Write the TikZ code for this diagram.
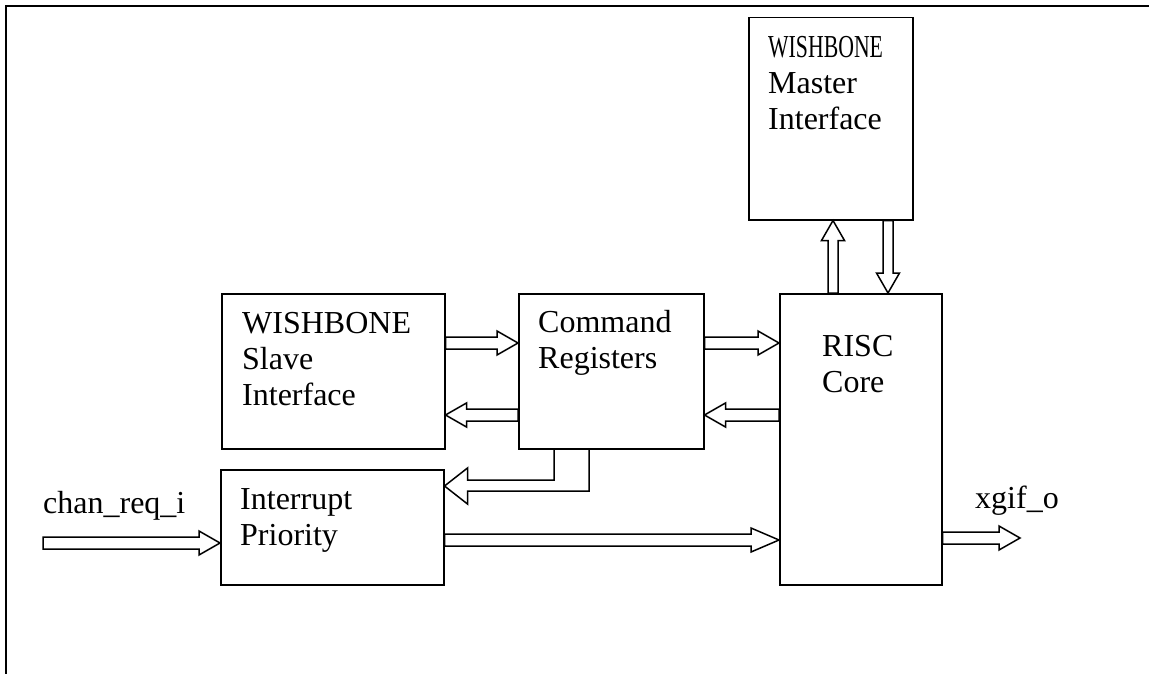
\documentclass[tikz,border=0pt]{standalone}
\usepackage{fontspec}
\usepackage{graphicx}
\setmainfont{Liberation Serif}
\usetikzlibrary{calc}
% horizontal block arrow: [head length]{start}{tip}
\newcommand\harr[3][21]{%
  \draw[blk] let \p1=(#2), \p2=(#3), \n2={\x2-sign(\x2-\x1)*#1} in
    (\x1,{\y1+6pt}) -- ({\n2*1pt},{\y1+6pt}) -- ({\n2*1pt},{\y1+12pt}) -- (\x2,\y1)
    -- ({\n2*1pt},{\y1-12pt}) -- ({\n2*1pt},{\y1-6pt}) -- (\x1,{\y1-6pt}) -- cycle;}
% vertical block arrow: [head length]{start}{tip}
\newcommand\varr[3][20]{%
  \draw[blk] let \p1=(#2), \p2=(#3), \n2={\y2-sign(\y2-\y1)*#1} in
    ({\x1+5pt},\y1) -- ({\x1+5pt},{\n2*1pt}) -- ({\x1+11.5pt},{\n2*1pt}) -- (\x1,\y2)
    -- ({\x1-11.5pt},{\n2*1pt}) -- ({\x1-5pt},{\n2*1pt}) -- ({\x1-5pt},\y1) -- cycle;}
\begin{document}
\begin{tikzpicture}[x=1pt,y=-1pt,
  box/.style={draw, line width=1.5pt, rectangle, inner sep=0pt, anchor=north west},
  txt/.style={anchor=north west, inner sep=0pt, align=left, font=\fontsize{32}{36}\selectfont},
  blk/.style={draw, line width=1.5pt, line join=miter}]
\useasboundingbox (0,0) rectangle (1149,674);
% outer frame (top and left sides)
\draw[line width=2.2pt] (6,674) -- (6,6) -- (1149,6);
% boxes
\node[box, minimum width=223pt, minimum height=155pt] (slave)  at (221,293) {};
\node[box, minimum width=185pt, minimum height=155pt] (cmd)    at (518,293) {};
\node[box, minimum width=162pt, minimum height=291pt] (risc)   at (779,293) {};
\node[box, minimum width=164pt, minimum height=202pt] (master) at (748,17) {};
\node[box, minimum width=223pt, minimum height=115pt] (irq)    at (220,469) {};
% texts
\node[txt] (slavetxt)  at (242,312) {WISHBONE\\Slave\\Interface};
\node[txt] (cmdtxt)    at (538,310) {Command\\Registers};
\node[txt] (mastertxt) at (768,36)  {\scalebox{0.68}[1]{WISHBONE}\\Master\\Interface};
\node[txt] (risctxt)   at (822,335) {RISC\\Core};
\node[txt] (irqtxt)    at (240,488) {Interrupt\\Priority};
\node[txt] (chantxt)   at (43,491)  {chan\_req\_i};
\node[txt] (xgiftxt)   at (975,486) {xgif\_o};
% helper levels
\coordinate (y343) at (0,343);
\coordinate (y415) at (0,415);
\coordinate (y540) at (0,540);
\coordinate (y543) at (0,543);
\coordinate (y538) at (0,538);
\coordinate (y468) at (0,468);
\coordinate (y480) at (0,480);
\coordinate (y486) at (0,486);
\coordinate (y491) at (0,491);
\coordinate (y504) at (0,504);
\coordinate (x833) at (833,0);
\coordinate (x888) at (888,0);
\coordinate (chanstart) at (43,543);
\coordinate (xgifend) at (1020,538);
% connectors
\harr{slave.east |- y343}{cmd.west |- y343}
\harr{cmd.west |- y415}{slave.east |- y415}
\harr{cmd.east |- y343}{risc.west |- y343}
\harr{risc.west |- y415}{cmd.east |- y415}
\varr{risc.north -| x833}{master.south -| x833}
\varr{master.south -| x888}{risc.north -| x888}
\harr[28]{irq.east |- y540}{risc.west |- y540}
\harr{chanstart}{irq.west |- y543}
\harr{risc.east |- y538}{xgifend}
% elbow arrow from Command Registers to Interrupt Priority
\coordinate (ea) at ($(cmd.south west)+(36,0)$);
\coordinate (eb) at ($(cmd.south west)+(71,0)$);
\coordinate (hb) at ($(irq.east)+(23,0)$);
\draw[blk] (ea) -- (ea |- y480) -- (hb |- y480) -- (hb |- y468) -- (irq.east |- y486)
  -- (hb |- y504) -- (hb |- y491) -- (eb |- y491) -- (eb);
\end{tikzpicture}
\end{document}
